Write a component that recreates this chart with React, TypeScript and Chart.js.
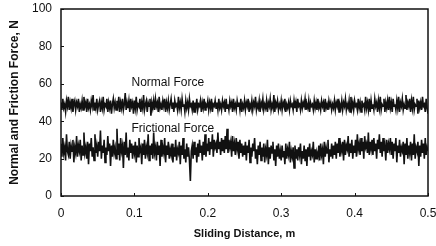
import React, { useEffect, useRef } from "react";
import { Chart, registerables } from "chart.js";

Chart.register(...registerables);

const SAMPLE_STEP = 0.00125;
const X_TICKS = [0, 0.1, 0.2, 0.3, 0.4, 0.5];
const Y_TICKS = [0, 20, 40, 60, 80, 100];

const normalForce = [
  50,46,52,47,49,45,51,48,53,46,50,47,52,45,49,51,46,50,48,52,
  45,49,47,51,46,53,48,50,45,52,47,49,46,51,48,54,46,50,47,52,
  46,49,51,45,50,47,53,46,49,48,52,45,50,47,51,44,49,52,47,50,
  46,51,48,53,45,50,47,52,46,49,55,46,50,47,51,45,52,48,50,44,
  51,47,53,46,49,48,52,45,50,47,54,46,49,51,45,50,48,52,43,50,
  47,51,46,52,48,50,45,53,47,49,46,51,48,52,45,50,47,51,46,49,
  52,47,50,45,51,48,49,46,53,47,50,46,52,48,49,45,51,47,50,46,
  52,48,49,46,51,45,50,47,52,46,49,48,51,45,50,47,52,46,49,48,
  51,46,50,47,52,45,49,48,51,47,50,46,52,47,49,46,51,48,50,45,
  52,47,49,46,51,48,50,45,52,47,49,46,51,48,50,46,52,45,49,47,
  51,46,50,48,52,45,49,47,51,46,50,48,53,46,49,47,51,45,50,48,
  52,46,49,47,51,45,50,48,52,46,49,47,54,45,50,48,51,46,49,47,
  51,46,50,48,52,45,49,47,50,46,51,48,49,46,51,47,50,45,52,48,
  49,46,51,47,50,48,52,46,49,47,51,45,50,48,49,46,51,47,50,46,
  52,47,49,46,51,48,50,45,52,47,49,46,51,48,50,46,49,47,51,46,
  50,48,52,45,49,47,51,46,50,48,52,46,49,47,51,45,53,47,50,46,
  51,48,49,46,52,47,50,45,51,48,49,46,53,47,50,46,52,45,51,47,
  49,46,52,48,50,45,51,47,53,46,49,48,52,45,50,47,51,46,53,47,
  50,45,52,48,49,46,51,47,53,45,50,48,52,46,49,47,54,46,50,48,
  52,45,51,47,53,46,49,48,52,44,51,47,50,46,53,48,49,45,52,47,
  44
];

const frictionalForce = [
  28,21,31,23,26,19,33,24,22,29,20,27,24,30,18,26,23,32,21,27,
  24,30,19,27,22,34,23,26,20,29,17,28,24,31,21,26,19,33,23,27,
  21,29,24,35,20,27,23,30,18,26,22,32,24,28,16,27,21,30,23,26,
  20,36,22,28,19,31,24,27,15,29,22,34,21,26,19,30,23,28,20,27,
  23,29,18,27,21,31,24,26,17,28,22,30,20,26,23,33,19,27,22,28,
  20,34,23,26,19,29,22,27,16,30,21,26,23,31,18,27,22,29,20,25,
  22,28,18,26,21,30,19,25,23,29,17,27,22,31,20,25,18,28,21,26,
  19,8,24,27,20,29,22,26,18,28,21,30,23,27,19,29,22,33,21,28,
  24,31,22,29,25,33,21,30,26,28,23,34,25,29,22,31,24,30,23,32,
  25,36,23,30,26,29,21,32,24,28,22,31,25,29,20,30,23,28,21,27,
  22,29,19,27,23,30,18,26,21,28,24,31,20,25,17,27,22,29,19,26,
  21,28,18,25,22,30,17,26,20,27,23,29,19,25,16,27,21,28,20,24,
  19,27,21,24,17,28,20,25,22,29,18,24,21,26,15,27,20,25,19,26,
  22,28,17,24,20,27,19,25,16,26,21,28,19,24,22,29,18,25,20,23,
  21,27,19,28,22,25,17,29,21,26,23,30,18,25,21,28,20,27,22,29,
  20,28,23,31,21,27,24,29,19,30,22,27,25,32,21,28,23,30,20,27,
  23,30,21,33,25,28,22,31,24,29,20,32,26,28,23,34,22,29,25,30,
  22,31,24,28,20,30,25,33,23,29,21,31,24,27,19,30,23,28,25,31,
  22,29,20,28,24,31,18,27,23,30,21,26,24,29,17,28,22,31,20,27,
  23,29,19,28,22,33,20,26,24,29,16,27,21,30,23,28,20,31,22,26,
  24
];

const seriesLabels = [
  { text: "Normal Force", x: 0.096, y: 60.4 },
  { text: "Frictional Force", x: 0.096, y: 35.8 },
];

const FONT = "'Liberation Sans', Arial, sans-serif";

const framePlugin = {
  id: "frame",
  afterDatasetsDraw(chart: any) {
    const { ctx, chartArea, scales } = chart;
    const xs = scales.x;
    const ys = scales.y;
    ctx.save();
    ctx.strokeStyle = "#111";
    ctx.lineWidth = 1.5;
    ctx.strokeRect(chartArea.left, chartArea.top, chartArea.right - chartArea.left, chartArea.bottom - chartArea.top);
    ctx.lineWidth = 1;
    X_TICKS.forEach((v) => {
      const px = Math.round(xs.getPixelForValue(v)) + 0.5;
      ctx.beginPath();
      ctx.moveTo(px, chartArea.bottom);
      ctx.lineTo(px, chartArea.bottom - 3);
      ctx.stroke();
    });
    Y_TICKS.forEach((v) => {
      const py = Math.round(ys.getPixelForValue(v)) + 0.5;
      ctx.beginPath();
      ctx.moveTo(chartArea.left, py);
      ctx.lineTo(chartArea.left + 3, py);
      ctx.stroke();
    });
    ctx.fillStyle = "#111";
    ctx.font = `12px ${FONT}`;
    ctx.textBaseline = "middle";
    ctx.textAlign = "left";
    seriesLabels.forEach((l) => {
      ctx.fillText(l.text, xs.getPixelForValue(l.x), ys.getPixelForValue(l.y));
    });
    ctx.restore();
  },
};

export default function App() {
  const ref = useRef<HTMLCanvasElement>(null);
  useEffect(() => {
    if (!ref.current) return;
    const toPts = (arr: number[]) => arr.map((y, i) => ({ x: i * SAMPLE_STEP, y }));
    const chart = new Chart(ref.current, {
      type: "line",
      data: {
        datasets: [
          { data: toPts(normalForce), borderColor: "#111", borderWidth: 1.6, pointRadius: 0, tension: 0 },
          { data: toPts(frictionalForce), borderColor: "#111", borderWidth: 1.6, pointRadius: 0, tension: 0 },
        ],
      },
      options: {
        animation: false,
        responsive: false,
        layout: { padding: { left: 0, right: 8, top: 9, bottom: 0 } },
        plugins: { legend: { display: false }, tooltip: { enabled: false } },
        scales: {
          x: {
            type: "linear",
            min: 0,
            max: 0.5,
            afterBuildTicks: (s: any) => { s.ticks = X_TICKS.map((v) => ({ value: v })); },
            afterFit: (s: any) => {
              s.height = 50;
              s.paddingLeft = 0;
              s.paddingRight = 0;
            },
            grid: { display: false, drawTicks: false },
            border: { display: false },
            ticks: {
              color: "#111",
              padding: 10,
              font: { family: FONT, size: 12 },
              callback: (v: any) => String(v),
              maxRotation: 0,
            },
            title: {
              display: true,
              text: "Sliding Distance, m",
              color: "#111",
              font: { family: FONT, size: 11, weight: "bold" },
              padding: { top: 0, bottom: 5 },
            },
          },
          y: {
            min: 0,
            max: 100,
            afterBuildTicks: (s: any) => { s.ticks = Y_TICKS.map((v) => ({ value: v })); },
            afterFit: (s: any) => {
              s.width = 61;
              s.paddingTop = 0;
              s.paddingBottom = 0;
            },
            grid: { display: false, drawTicks: false },
            border: { display: false },
            ticks: {
              color: "#111",
              padding: 9,
              font: { family: FONT, size: 12 },
            },
            title: {
              display: true,
              text: "Normal and Friction Force, N",
              color: "#111",
              font: { family: FONT, size: 12, weight: "bold" },
              padding: { top: 7, bottom: 0 },
            },
          },
        },
      },
      plugins: [framePlugin],
    });
    return () => chart.destroy();
  }, []);
  return (
    <div style={{ position: "absolute", left: 0, top: 0, width: 436, height: 246, background: "#fff" }}>
      <canvas ref={ref} width={436} height={246} style={{ width: 436, height: 246 }} />
    </div>
  );
}
